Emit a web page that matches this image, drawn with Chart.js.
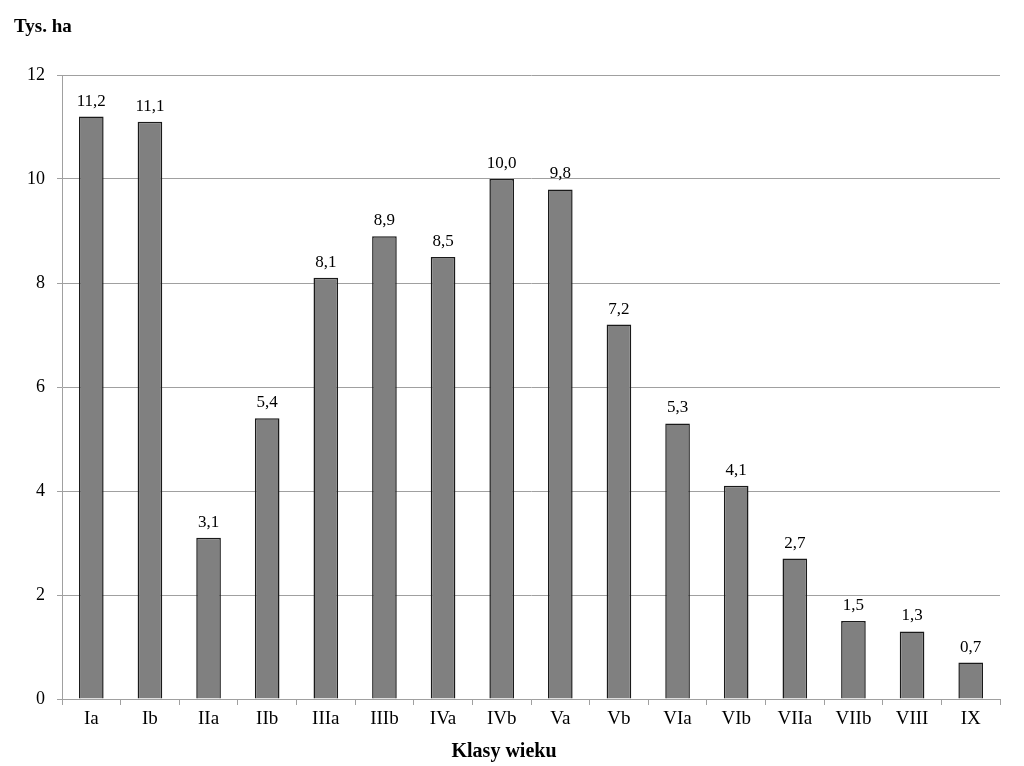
<!DOCTYPE html>
<html><head><meta charset="utf-8">
<script src="https://cdn.jsdelivr.net/npm/chart.js@4"></script>
<style>html,body{margin:0;padding:0;background:#fff;}canvas{display:block;}</style>
</head><body>
<canvas id="c" width="1024" height="766"></canvas>
<script>
const categories = ["Ia","Ib","IIa","IIb","IIIa","IIIb","IVa","IVb","Va","Vb","VIa","VIb","VIIa","VIIb","VIII","IX"];
const values = [11.2,11.1,3.1,5.4,8.1,8.9,8.5,10.0,9.8,7.2,5.3,4.1,2.7,1.5,1.3,0.7];
const yTitle = "Tys. ha";
const xTitle = "Klasy wieku";
const FONT = "'Liberation Serif','Times New Roman',serif";

const overlay = {
  id:'overlay',
  afterDatasetsDraw(chart){
    const ctx = chart.ctx;
    const meta = chart.getDatasetMeta(0);
    ctx.save();
    ctx.fillStyle = '#000';
    ctx.font = "17px " + FONT;
    ctx.textAlign = 'center';
    ctx.textBaseline = 'alphabetic';
    meta.data.forEach((bar,i)=>{
      ctx.fillText(values[i].toFixed(1).replace('.',','), bar.x, bar.y - 11);
    });
    ctx.font = "bold 19px " + FONT;
    ctx.textAlign = 'left';
    ctx.fillText(yTitle, 14, 32);
    ctx.textAlign = 'center';
    ctx.font = "bold 20px " + FONT;
    ctx.fillText(xTitle, 504, 757);
    ctx.restore();
  }
};

new Chart(document.getElementById('c'), {
  type:'bar',
  data:{labels:categories, datasets:[{data:values, backgroundColor:'#808080', borderColor:'#1a1a1a', borderWidth:1.5, inflateAmount:0, categoryPercentage:1, barPercentage:0.42}]},
  options:{
    responsive:false, animation:false,
    layout:{padding:{left:0,right:24,top:75,bottom:0}},
    plugins:{legend:{display:false}, tooltip:{enabled:false}},
    scales:{
      x:{
        offset:true,
        grid:{offset:true, drawOnChartArea:false, color:'#a0a0a0', tickLength:6},
        border:{color:'#a0a0a0'},
        ticks:{color:'#000', font:{family:FONT, size:19}, padding:3},
        afterFit(s){ s.height = 67; }
      },
      y:{
        min:0, max:12,
        grid:{color:'#a0a0a0', tickLength:5},
        border:{color:'#a0a0a0'},
        ticks:{stepSize:2, color:'#000', font:{family:FONT, size:18}, padding:12},
        afterFit(s){ s.width = 62; }
      }
    }
  },
  plugins:[overlay]
});
</script>
</body></html>
